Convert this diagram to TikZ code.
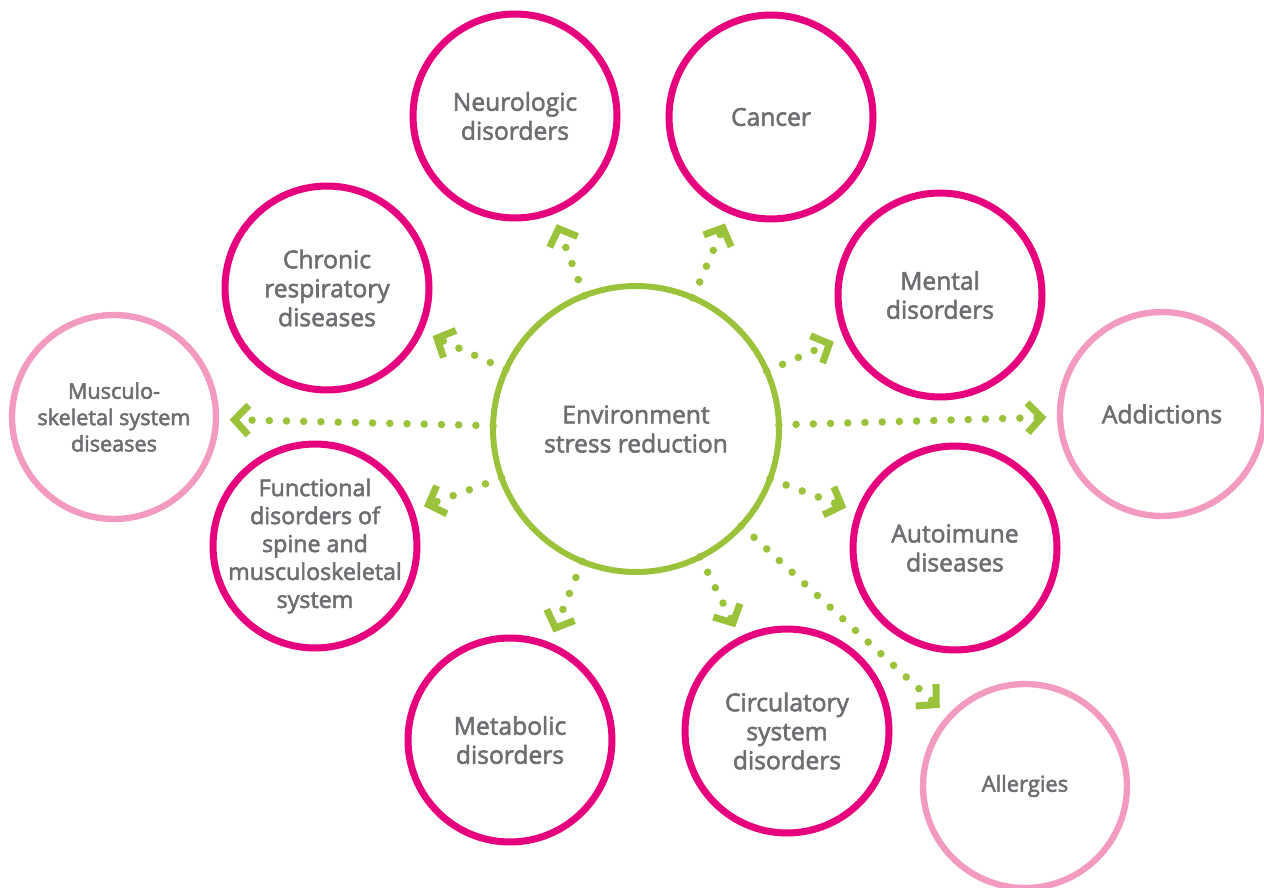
\documentclass[tikz,border=0pt]{standalone}
\usepackage{fontspec}
\setmainfont{Open Sans}
\usetikzlibrary{arrows.meta}
\definecolor{magentaring}{RGB}{230,0,126}
\definecolor{pinkring}{RGB}{243,154,193}
\definecolor{greenring}{RGB}{155,194,59}
\definecolor{labelgray}{RGB}{109,110,113}
% slightly heavier lettering: fill and stroke the glyphs
\newcommand\heavytext{\special{pdf:literal direct 2 Tr 0.32 w}}
\begin{document}
\begin{tikzpicture}[x=0.02cm,y=-0.02cm,
  ring/.style={circle, draw=magentaring, line width=4pt, minimum size=4.08cm,
    inner sep=0pt, text=labelgray, align=center,
    font=\fontsize{14}{16.5}\selectfont\heavytext},
  softring/.style={ring, draw=pinkring, line width=3.6pt},
  hub/.style={ring, draw=greenring, line width=3.4pt, minimum size=5.72cm, outer sep=0pt},
  ringtext/.style={inner sep=0pt, text=labelgray, align=center,
    font=\fontsize{13.2}{15.9}\selectfont\heavytext},
  link/.style={draw=greenring, line width=4.3pt, line cap=round,
    dash pattern=on 0pt off 9.8pt,
    -{Straight Barb[length=8pt,width=17pt,line width=4pt]}, shorten >=6pt}
]
\useasboundingbox (0,0) rectangle (1264,888);

% central hub
\node[hub] (env) at (636,429) {Environment\\stress reduction};

% surrounding conditions
\node[ring] (neuro) at (515,116) {Neurologic\\disorders};
\node[ring] (cancer) at (771,117) {Cancer};
\node[ring] (chronic) at (327,288) {Chronic\\respiratory\\diseases};
\node[ring] (mental) at (940,295) {Mental\\disorders};
\node[softring, font=\fontsize{12.3}{15}\selectfont\heavytext] (musculo) at (114,417) {Musculo-\\skeletal system\\diseases};
\node[softring] (addict) at (1162,414) {Addictions};
\node[ring] (functional) at (315,546) {};
\node[ringtext] (functionaltext) at (functional.center) {Functional\\disorders of\\spine and\\musculoskeletal\\system};
\node[ring] (autoimmune) at (955,548) {Autoimune\\diseases};
\node[ring] (metabolic) at (510,740) {Metabolic\\disorders};
\node[ring] (circulatory) at (787,731) {Circulatory\\system\\disorders};
\node[softring, font=\fontsize{12.5}{13}\selectfont\heavytext] (allergies) at (1025,786) {Allergies};

% dotted arrows from the hub
\foreach \t in {neuro,cancer,chronic,mental,musculo,addict,functional,autoimmune,metabolic,circulatory,allergies}
  \draw[link] (env) -- (\t);
\end{tikzpicture}
\end{document}
